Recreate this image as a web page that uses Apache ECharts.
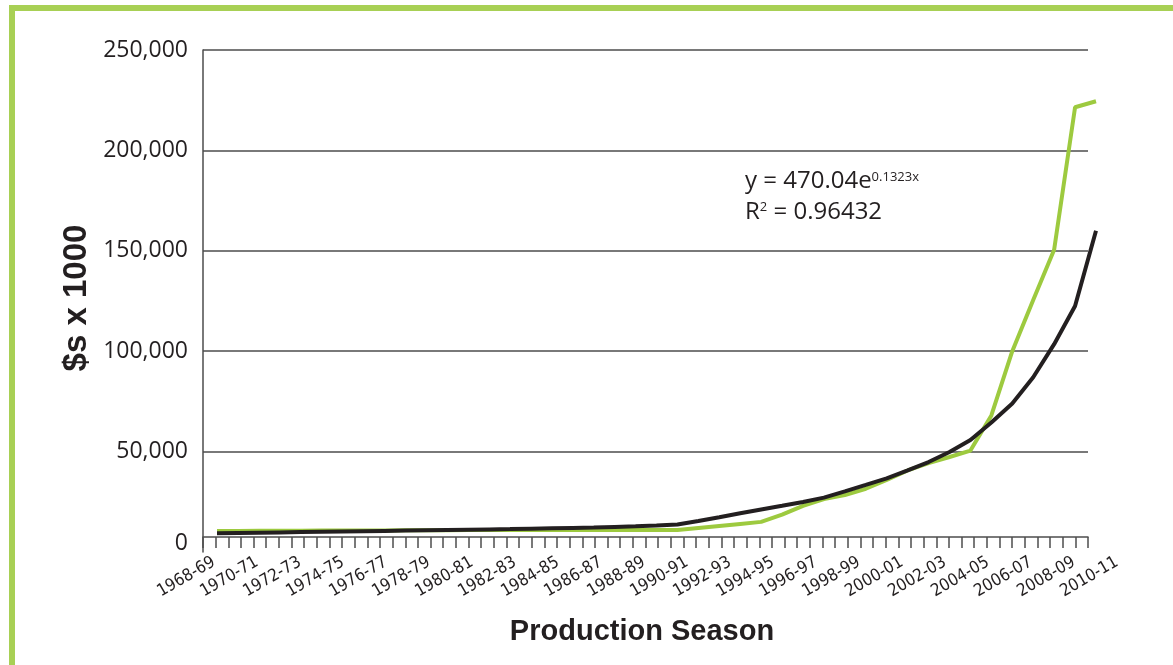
<!DOCTYPE html>
<html>
<head>
<meta charset="utf-8">
<script src="https://cdn.jsdelivr.net/npm/echarts@6/dist/echarts.min.js"></script>
<style>
html,body{margin:0;padding:0;background:#fff;}
#chart{width:1173px;height:665px;}
</style>
</head>
<body>
<div id="chart"></div>
<script>
// ---- data ----
const seasons = [
  '1968-69','1969-70','1970-71','1971-72','1972-73','1973-74','1974-75','1975-76','1976-77','1977-78',
  '1978-79','1979-80','1980-81','1981-82','1982-83','1983-84','1984-85','1985-86','1986-87','1987-88',
  '1988-89','1989-90','1990-91','1991-92','1992-93','1993-94','1994-95','1995-96','1996-97','1997-98',
  '1998-99','1999-00','2000-01','2001-02','2002-03','2003-04','2004-05','2005-06','2006-07','2007-08',
  '2008-09','2009-10','2010-11'
];
const actualValues = [
  10500,10500,10550,10600,10600,10650,10700,10700,10750,10800,
  10800,10850,10900,10900,10950,11000,11000,11000,11000,11000,
  11000,11000,11000,12000,13000,14000,15000,18600,23000,26400,
  28400,31500,35900,40600,44300,47300,50500,68000,100000,125500,
  150500,221500,224500
];
const trendValues = [
  9300,9450,9600,9750,9900,10050,10200,10350,10500,10650,
  10800,10950,11100,11250,11400,11600,11800,12000,12200,12500,
  12800,13200,13700,15400,17300,19300,21200,23000,24900,27100,
  30200,33400,36700,40700,44800,49800,55800,64500,74000,87000,
  103500,122500,160000
];
const yMin = 0, yMax = 250000, yStep = 50000;
const tickCount = 70;
const xTitle = 'Production Season';
const yTitle = '$s x 1000';
const eqLine1 = 'y = 470.04e';
const eqExp = '0.1323x';
const eqLine2a = 'R';
const eqLine2sup = '2';
const eqLine2b = ' = 0.96432';

// ---- chart ----
const TXT = '#231f20';
const AX = '#4d4d4d';
const GREEN = '#9dca3f';
const BORDER = '#a8d055';
const chart = echarts.init(document.getElementById('chart'));
const option = {
  animation: false,
  backgroundColor: '#ffffff',
  grid: [
    {left: 203, right: 85, top: 50, bottom: 113},
    {left: 217, right: 77, top: 50, bottom: 113},
    {left: 214, right: 56, top: 50, bottom: 113}
  ],
  xAxis: [
    {gridIndex: 0, type: 'value', min: 0, max: tickCount, interval: 1, position: 'bottom', offset: -15,
     axisLine: {show: true, onZero: false, lineStyle: {color: AX, width: 1.5}},
     axisTick: {show: true, length: 11, lineStyle: {color: AX, width: 1.5}},
     axisLabel: {show: false}, splitLine: {show: false}},
    {gridIndex: 1, type: 'value', min: 0, max: seasons.length - 1, show: false},
    {gridIndex: 2, type: 'category', data: seasons, boundaryGap: false,
     axisLine: {show: false}, axisTick: {show: false}, splitLine: {show: false},
     axisLabel: {interval: 1, rotate: 30, margin: 9, fontSize: 17, color: TXT,
       fontFamily: '"Liberation Sans Narrow","DejaVu Sans Condensed","Liberation Sans",sans-serif'}}
  ],
  yAxis: [
    {gridIndex: 0, type: 'value', min: yMin, max: yMax, interval: yStep,
     axisLine: {show: true, lineStyle: {color: AX, width: 1.5}},
     axisTick: {show: false},
     splitLine: {show: true, showMinLine: false, lineStyle: {color: AX, width: 1.5}},
     axisLabel: {margin: 15, fontSize: 23, color: TXT, fontFamily: '"Open Sans",sans-serif',
       formatter: v => v === 0 ? '{z|0}' : v.toLocaleString('en-US'),
       rich: {z: {fontSize: 23, color: TXT, fontFamily: '"Open Sans",sans-serif', padding: [0, 0, 18, 0]}}}},
    {gridIndex: 1, type: 'value', min: yMin, max: yMax, show: false},
    {gridIndex: 2, type: 'value', min: yMin, max: yMax, show: false}
  ],
  series: [
    {type: 'line', xAxisIndex: 1, yAxisIndex: 1, symbol: 'none', z: 2,
     data: actualValues.map((v, i) => [i, v]),
     lineStyle: {color: GREEN, width: 4}},
    {type: 'line', xAxisIndex: 1, yAxisIndex: 1, symbol: 'none', z: 3,
     data: trendValues.map((v, i) => [i, v]),
     lineStyle: {color: TXT, width: 4}}
  ],
  graphic: [
    {type: 'rect', left: 9, top: 5, shape: {width: 1164, height: 6}, style: {fill: BORDER}, silent: true},
    {type: 'rect', left: 9, top: 5, shape: {width: 6, height: 660}, style: {fill: BORDER}, silent: true},
    {type: 'text', x: 642, y: 632, style: {text: xTitle, fill: TXT, align: 'center', verticalAlign: 'middle',
      font: 'bold 29px "Liberation Sans",sans-serif'}},
    {type: 'text', x: 77, y: 298, rotation: Math.PI / 2, style: {text: yTitle, fill: TXT, align: 'center', verticalAlign: 'middle',
      font: 'bold 33px "Liberation Sans",sans-serif'}},
    {type: 'text', x: 745, y: 166, style: {
      text: '{a|' + eqLine1 + '}{b|' + eqExp + '}\n{a|' + eqLine2a + '}{c|' + eqLine2sup + '}{a|' + eqLine2b + '}',
      verticalAlign: 'top', align: 'left',
      rich: {
        a: {fontSize: 24, fontFamily: '"Open Sans",sans-serif', fill: TXT, lineHeight: 31},
        b: {fontSize: 13, fontFamily: '"Open Sans",sans-serif', fill: TXT, verticalAlign: 'middle', padding: [0, 0, 8, 0]},
        c: {fontSize: 13, fontFamily: '"Open Sans",sans-serif', fill: TXT, verticalAlign: 'middle', padding: [0, 0, 11, 0]}
      }}}
  ]
};
chart.setOption(option);
</script>
</body>
</html>
